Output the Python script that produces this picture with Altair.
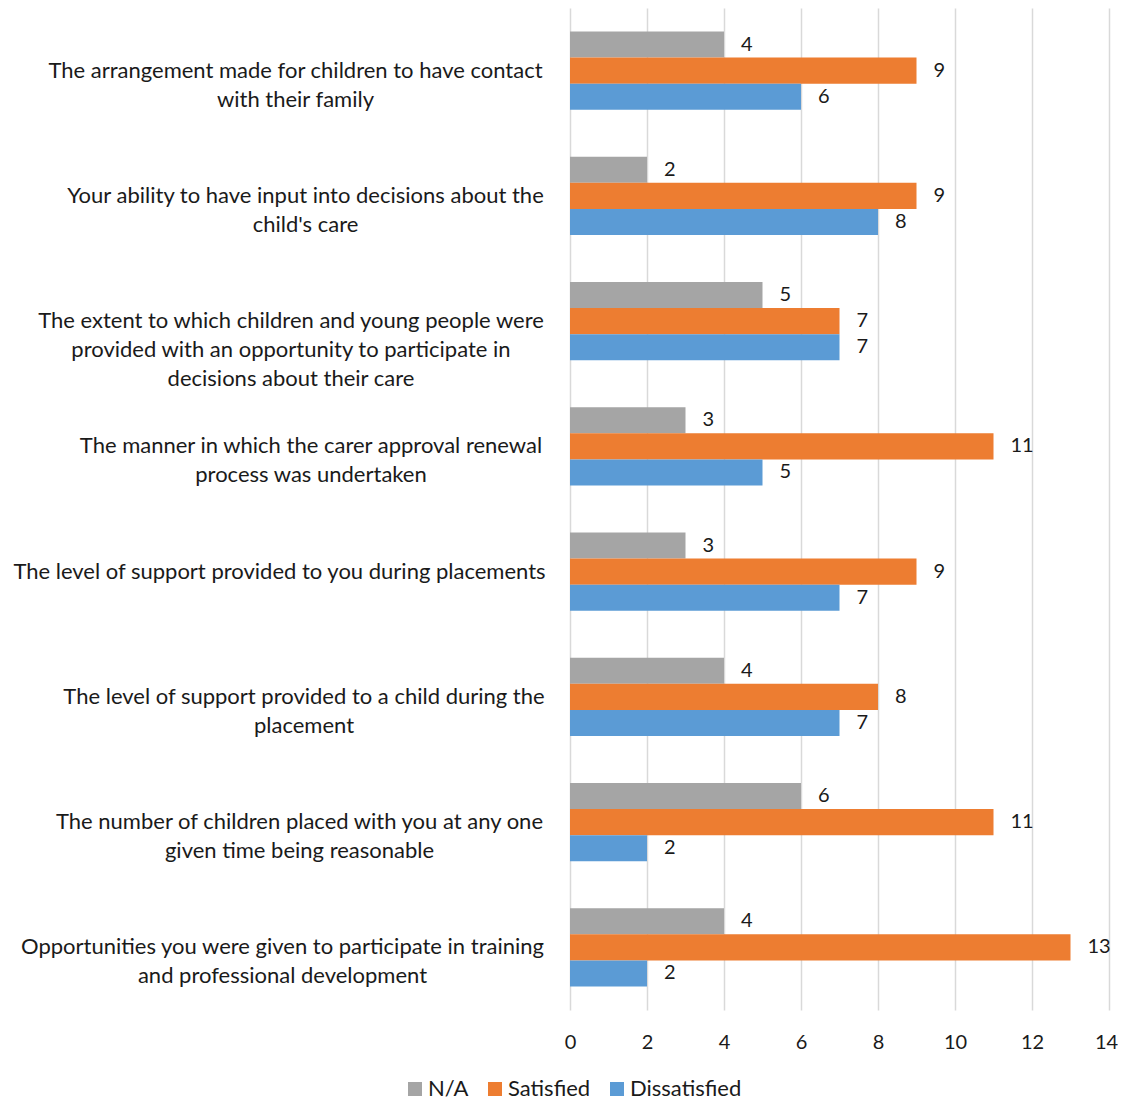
import json
import altair as alt
import pandas as pd

categories = [
    "The arrangement made for children to have contact|with their family",
    "Your ability to have input into decisions about the|child's care",
    "The extent to which children and young people were|provided with an opportunity to participate in|decisions about their care",
    "The manner in which the carer approval renewal|process was undertaken",
    "The level of support provided to you during placements",
    "The level of support provided to a child during the|placement",
    "The number of children placed with you at any one|given time being reasonable",
    "Opportunities you were given to participate in training|and professional development",
]
series = ["N/A", "Satisfied", "Dissatisfied"]
na_values = [4, 2, 5, 3, 3, 4, 6, 4]
satisfied_values = [9, 9, 7, 11, 9, 8, 11, 13]
dissatisfied_values = [6, 8, 7, 5, 7, 7, 2, 2]
colors = ["#A5A5A5", "#ED7D31", "#5B9BD5"]
x_ticks = [0, 2, 4, 6, 8, 10, 12, 14]

# label block centres (px from the axis) to mimic centred multi-line labels
label_pad = [275, 265, 279.5, 259.5, 291, 266.5, 271, 288]

rows = []
for i, c in enumerate(categories):
    for s, vals in zip(series, [na_values, satisfied_values, dissatisfied_values]):
        rows.append({"category": c, "series": s, "value": vals[i]})
df = pd.DataFrame(rows)

FONT = "Lato"
TXT = "#1a1a1a"

pad_cond = [
    {"test": f"datum.value === {json.dumps(c)}", "value": p}
    for c, p in zip(categories, label_pad)
]

y_enc = alt.Y(
    "category:N",
    sort=categories,
    scale=alt.Scale(paddingInner=0.377, paddingOuter=0.1885),
    axis=alt.Axis(
        title=None,
        grid=False,
        ticks=False,
        domain=False,
        labelFont=FONT,
        labelFontSize=22,
        labelColor=TXT,
        labelLineHeight=29,
        labelAlign="center",
        labelBaseline="middle",
        labelLimit=0,
        labelExpr="split(datum.value, '|')",
        labelPadding={"condition": pad_cond, "value": 270},
    ),
)
yoff_enc = alt.YOffset("series:N", sort=series, scale=alt.Scale(paddingInner=0, paddingOuter=0))
x_enc = alt.X(
    "value:Q",
    scale=alt.Scale(domain=[0, 14]),
    axis=alt.Axis(
        title=None,
        values=x_ticks,
        grid=True,
        gridColor="#d9d9d9",
        gridWidth=1.5,
        ticks=False,
        domain=False,
        labelFont=FONT,
        labelFontSize=20,
        labelColor=TXT,
        labelPadding=22,
        labelFlush=False,
        labelOffset={"condition": {"test": "datum.value === 14", "value": -3}, "value": 0},
    ),
)

bars = alt.Chart(df).mark_bar().encode(
    y=y_enc,
    yOffset=yoff_enc,
    x=x_enc,
    color=alt.Color(
        "series:N",
        sort=series,
        scale=alt.Scale(domain=series, range=colors),
        legend=alt.Legend(
            title=None,
            orient="none",
            legendX=-166,
            legendY=1070,
            direction="horizontal",
            symbolType="square",
            symbolSize=196,
            symbolStrokeWidth=0,
            labelFont=FONT,
            labelFontSize=22,
            labelColor=TXT,
            labelOffset=2,
            columnPadding=15,
        ),
    ),
)

labels = alt.Chart(df).mark_text(
    align="left", baseline="middle", dx=17, font=FONT, fontSize=20, color=TXT
).encode(
    y=alt.Y("category:N", sort=categories),
    yOffset=alt.YOffset("series:N", sort=series),
    x=alt.X("value:Q"),
    text="value:Q",
)

chart = (
    alt.layer(bars, labels)
    .properties(
        width=539,
        height=1002,
        autosize=alt.AutoSizeParams(type="none"),
        padding={"left": 562, "top": 0, "right": 9, "bottom": 90},
    )
    .configure_view(stroke=None)
)

chart.save("out.html", embed_options={"renderer": "svg", "actions": False})
